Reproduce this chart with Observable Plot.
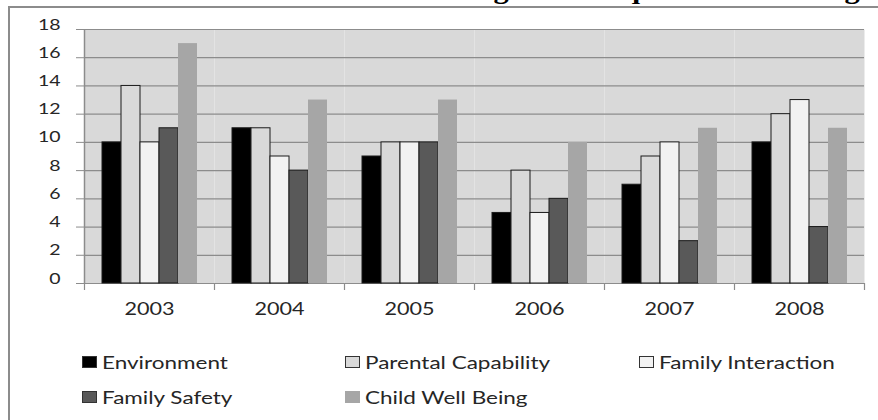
<!DOCTYPE html>
<html>
<head>
<meta charset="utf-8">
<script src="https://cdn.jsdelivr.net/npm/d3@7"></script>
<script src="https://cdn.jsdelivr.net/npm/@observablehq/plot@0.6"></script>
<style>
html, body { margin: 0; padding: 0; background: #fff; }
#wrap { position: relative; width: 878px; height: 420px; overflow: hidden; background: #fff; font-family: Lato, "Open Sans", sans-serif; }
#box { position: absolute; left: 8px; top: 6px; width: 1000px; height: 600px; border-left: 2px solid #8c8c8c; border-top: 2px solid #8c8c8c; }
#title { position: absolute; left: 83px; top: -22.5px; font: bold 26px/26px "Liberation Serif", "Times New Roman", serif; white-space: nowrap; transform: scaleX(1.165); transform-origin: 0 0; color: #000; margin: 0; }
#main, #overlay { position: absolute; left: 0; top: 0; }
.sw { position: absolute; width: 15px; height: 12px; box-sizing: border-box; }
.lt { position: absolute; font: 18px/18px Lato, "Open Sans", sans-serif; color: #262626; white-space: nowrap; transform: scaleX(1.25); transform-origin: 0 50%; }
</style>
</head>
<body>
<div id="wrap">
  <div id="box"></div>
  <div id="title">Percent of NCFAS Areas Scoring in Inadequate Functioning</div>
  <div id="main"></div>
  <div id="overlay"></div>
</div>
<script>
// ---- data ----
const years = ["2003", "2004", "2005", "2006", "2007", "2008"];
const series = ["Environment", "Parental Capability", "Family Interaction", "Family Safety", "Child Well Being"];
const environment = [10, 11, 9, 5, 7, 10];
const parentalCapability = [14, 11, 10, 8, 9, 12];
const familyInteraction = [10, 9, 10, 5, 10, 13];
const familySafety = [11, 8, 10, 6, 3, 4];
const childWellBeing = [17, 13, 13, 10, 11, 11];
const yTicks = [0, 2, 4, 6, 8, 10, 12, 14, 16, 18];

// ---- styles ----
const fills = ["#000000", "#d9d9d9", "#f2f2f2", "#595959", "#a6a6a6"];
const gridColor = "#8c8c8c";

const valuesBySeries = [environment, parentalCapability, familyInteraction, familySafety, childWellBeing];
const rows = [];
years.forEach((year, i) => {
  series.forEach((s, j) => rows.push({year, series: s, value: valuesBySeries[j][i]}));
});

const W = 878, H = 330;
const margins = {marginLeft: 84, marginRight: 14, marginTop: 29, marginBottom: 47};

const main = Plot.plot({
  width: W, height: H, ...margins,
  style: {background: "transparent", fontFamily: "Lato, 'Open Sans', sans-serif", fontSize: "15px", color: "#262626", overflow: "visible"},
  facet: {data: rows, x: "year"},
  fx: {domain: years, paddingInner: 0, paddingOuter: 0, axis: null, label: null},
  x: {domain: series, paddingInner: 0, paddingOuter: 0.79, axis: null, label: null},
  y: {domain: [0, 18], axis: null, label: null},
  color: {domain: series, range: fills},
  marks: [
    Plot.frame({fill: "#d9d9d9", stroke: "none"}),
    Plot.gridY(yTicks, {stroke: gridColor, strokeOpacity: 1, strokeWidth: 1.2}),
    Plot.barY(rows, {filter: d => d.series !== "Child Well Being", x: "series", y: "value", fill: "series", stroke: "#1a1a1a", strokeWidth: 1}),
    Plot.barY(rows, {filter: d => d.series === "Child Well Being", x: "series", y: "value", fill: "series"}),
    Plot.axisY(yTicks, {tickSize: 8, tickPadding: 16, stroke: gridColor, strokeOpacity: 1, fill: "#262626", fontSize: 15, label: null})
  ]
});

const overlay = Plot.plot({
  width: W, height: H, ...margins,
  style: {background: "transparent", fontFamily: "Lato, 'Open Sans', sans-serif", fontSize: "18px", color: "#262626", overflow: "visible"},
  x: {domain: [0, years.length], axis: null},
  y: {domain: [0, 18], axis: null},
  marks: [
    Plot.ruleX([0], {stroke: gridColor, strokeWidth: 1.5}),
    Plot.ruleX(d3.range(years.length + 1), {y1: 0, y2: 0, insetBottom: -7, stroke: gridColor, strokeWidth: 1.2}),
    Plot.text(years, {x: (d, i) => i + 0.5, y: 0, text: d => d, dy: 31, fontSize: 18, fill: "#262626"})
  ]
});

document.getElementById("main").appendChild(main);
document.getElementById("overlay").appendChild(overlay);

// horizontally stretch the text glyphs like the reference
function stretch(nodes, k) {
  nodes.forEach(node => {
    const t = node.getAttribute("transform") || "";
    const x = +node.getAttribute("x") || 0, y = +node.getAttribute("y") || 0;
    node.setAttribute("x", 0); node.setAttribute("y", 0);
    node.setAttribute("transform", `${t} translate(${x},${y}) scale(${k},1)`);
  });
}
stretch(main.querySelectorAll('g[aria-label="y-axis tick label"] text'), 1.3);
stretch(overlay.querySelectorAll('g[aria-label="text"] text'), 1.2);

// legend
const wrap = document.getElementById("wrap");
const legX = [82, 345, 639];
const legY = [362, 397];
series.forEach((s, j) => {
  const col = j % 3, row = Math.floor(j / 3);
  const sw = document.createElement("div");
  sw.className = "sw";
  sw.style.left = legX[col] + "px";
  sw.style.top = (legY[row] - 6) + "px";
  sw.style.background = fills[j];
  sw.style.border = j === 4 ? "none" : "1px solid #333";
  wrap.appendChild(sw);
  const lt = document.createElement("div");
  lt.className = "lt";
  lt.textContent = s;
  lt.style.left = (legX[col] + 20) + "px";
  lt.style.top = (legY[row] - 9.5) + "px";
  wrap.appendChild(lt);
});
</script>
</body>
</html>
